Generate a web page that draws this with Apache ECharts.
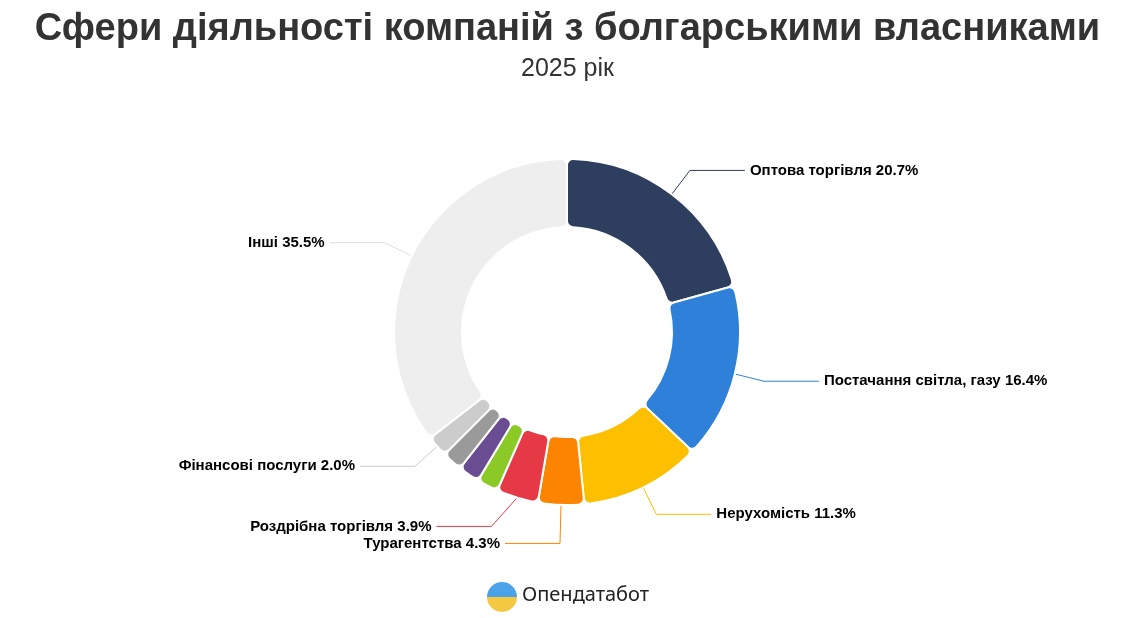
<!doctype html>
<html>
<head>
<meta charset="UTF-8">
<script src="https://cdn.jsdelivr.net/npm/echarts@6/dist/echarts.min.js"></script>
<style>html,body{margin:0;padding:0;background:#fff}#main{width:1135px;height:618px}</style>
</head>
<body>
<div id="main"></div>
<script>
var names = ['Оптова торгівля', 'Постачання світла, газу', 'Нерухомість', 'Турагентства', 'Роздрібна торгівля', 'Інше 1', 'Інше 2', 'Інше 3', 'Фінансові послуги', 'Інші'];
var values = [20.7, 16.4, 11.3, 4.3, 3.9, 2.0, 2.0, 1.9, 2.0, 35.5];
var colors = ['#2e3e5e', '#2f80d9', '#fdc000', '#fb8500', '#e63946', '#8ac926', '#6a4c93', '#9a9a9a', '#cccccc', '#eeeeee'];
var showLabel = [true, true, true, true, true, false, false, false, true, true];

var chart = echarts.init(document.getElementById('main'));
var data = names.map(function (n, i) {
  return {
    name: n, value: values[i],
    itemStyle: {color: colors[i]},
    label: {show: showLabel[i]},
    labelLine: {show: showLabel[i], lineStyle: {color: colors[i] === '#eeeeee' ? '#dddddd' : colors[i]}}
  };
});
chart.setOption({
  title: {
    text: 'Сфери діяльності компаній з болгарськими власниками',
    subtext: '2025 рік',
    left: 'center', top: 6, itemGap: 8,
    textStyle: {fontFamily: 'Liberation Sans', fontSize: 38, fontWeight: 'bold', color: '#333'},
    subtextStyle: {fontFamily: 'Liberation Sans', fontSize: 25, color: '#333'}
  },
  series: [{
    type: 'pie',
    center: [567, 332],
    radius: [105, 173],
    startAngle: 90,
    itemStyle: {borderColor: '#fff', borderWidth: 2, borderRadius: 6},
    label: {
      formatter: function (p) { return p.name + ' ' + p.value.toFixed(1) + '%'; },
      color: '#000', fontWeight: 'bold',
      fontFamily: 'Liberation Sans', fontSize: 15
    },
    labelLine: {length: 30, length2: 55},
    data: data
  }],
  graphic: [
    {type: 'circle', shape: {cx: 502, cy: 597, r: 15},
     style: {fill: new echarts.graphic.LinearGradient(0, 0, 0, 1, [{offset: 0.5, color: '#4aa3e8'}, {offset: 0.5, color: '#f5c842'}])}},
    {type: 'text', left: 522, top: 585,
     style: {text: 'Опендатабот', font: '20px "Noto Sans"', fill: '#222'}}
  ]
});
</script>
</body>
</html>
